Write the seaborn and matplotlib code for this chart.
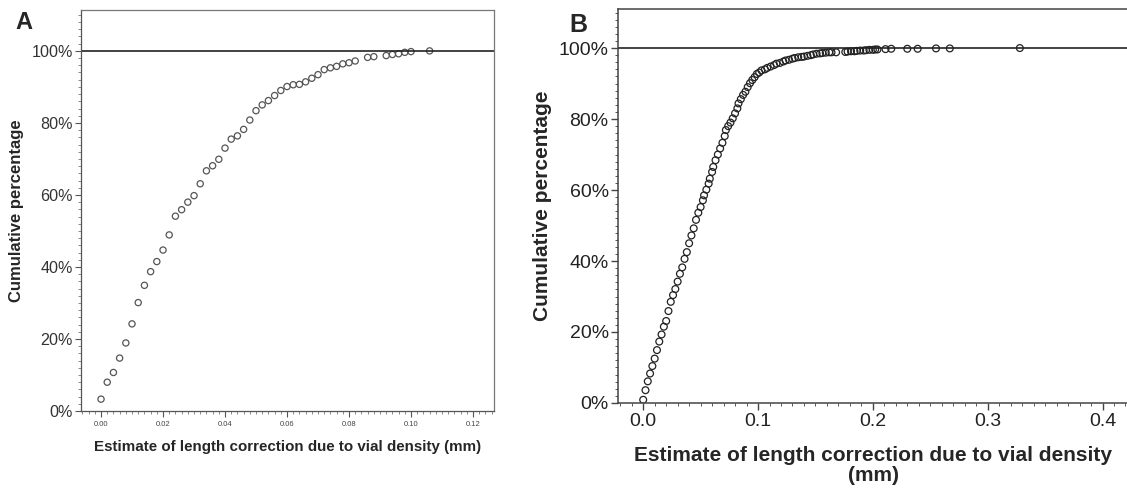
import matplotlib
matplotlib.use("Agg")
import matplotlib.pyplot as plt
import seaborn as sns
import pandas as pd
from matplotlib.ticker import MultipleLocator, FuncFormatter

# panel A values (estimate in mm, cumulative %)
a_estimate = [0.000, 0.002, 0.004, 0.006, 0.008, 0.010, 0.012, 0.014, 0.016, 0.018,
              0.020, 0.022, 0.024, 0.026, 0.028, 0.030, 0.032, 0.034, 0.036, 0.038,
              0.040, 0.042, 0.044, 0.046, 0.048, 0.050, 0.052, 0.054, 0.056, 0.058,
              0.060, 0.062, 0.064, 0.066, 0.068, 0.070, 0.072, 0.074, 0.076, 0.078,
              0.080, 0.082, 0.086, 0.088, 0.092, 0.094, 0.096, 0.098, 0.100, 0.106]
a_cumulative = [3.3, 8.0, 10.7, 14.7, 18.9, 24.2, 30.1, 34.9, 38.7, 41.5,
                44.7, 48.9, 54.1, 55.9, 58.0, 59.8, 63.1, 66.7, 68.1, 69.9,
                73.0, 75.5, 76.4, 78.2, 80.8, 83.4, 85.0, 86.2, 87.6, 89.0,
                90.1, 90.6, 90.7, 91.4, 92.4, 93.4, 94.8, 95.3, 95.7, 96.4,
                96.7, 97.2, 98.2, 98.4, 98.7, 99.0, 99.2, 99.6, 99.8, 100.0]

# panel B values
b_estimate = [0.000, 0.002, 0.004, 0.006, 0.008, 0.010, 0.012, 0.014, 0.016, 0.018,
              0.020, 0.022, 0.024, 0.026, 0.028, 0.030, 0.032, 0.034, 0.036, 0.038,
              0.040, 0.042, 0.044, 0.046, 0.048, 0.050, 0.052, 0.053, 0.055, 0.057,
              0.058, 0.060, 0.061, 0.063, 0.065, 0.067, 0.069, 0.071, 0.072, 0.074,
              0.076, 0.078, 0.080, 0.082, 0.083, 0.085, 0.087, 0.089, 0.091, 0.093,
              0.095, 0.097, 0.099, 0.101, 0.103, 0.106, 0.108, 0.111, 0.114, 0.116,
              0.119, 0.122, 0.124, 0.127, 0.130, 0.132, 0.135, 0.138, 0.140, 0.143,
              0.146, 0.148, 0.151, 0.154, 0.156, 0.159, 0.162, 0.164, 0.168, 0.176,
              0.178, 0.181, 0.184, 0.186, 0.189, 0.192, 0.194, 0.197, 0.200, 0.202,
              0.204, 0.211, 0.216, 0.230, 0.239, 0.255, 0.267, 0.328]
b_cumulative = [0.9, 3.6, 6.1, 8.3, 10.4, 12.5, 14.9, 17.3, 19.3, 21.5,
                23.1, 25.9, 28.5, 30.4, 32.1, 34.2, 36.4, 38.2, 40.6, 42.5,
                45.0, 47.2, 49.2, 51.6, 53.6, 55.2, 57.1, 58.5, 60.1, 61.8,
                63.2, 65.1, 66.5, 68.4, 70.0, 71.7, 73.3, 75.2, 76.9, 78.0,
                79.0, 80.2, 81.6, 83.0, 84.4, 85.6, 86.8, 87.7, 89.0, 90.1,
                91.0, 91.8, 92.7, 93.1, 93.7, 94.0, 94.4, 94.8, 95.2, 95.6,
                95.8, 96.2, 96.5, 96.7, 97.0, 97.2, 97.4, 97.5, 97.6, 97.8,
                98.0, 98.2, 98.4, 98.5, 98.6, 98.7, 98.8, 98.8, 98.8, 98.9,
                99.0, 99.1, 99.1, 99.2, 99.3, 99.3, 99.4, 99.5, 99.5, 99.6,
                99.6, 99.7, 99.8, 99.8, 99.8, 99.9, 99.9, 100.0]

x_label = "Estimate of length correction due to vial density (mm)"
y_label = "Cumulative percentage"

sns.set_style("ticks")
plt.rcParams['font.family'] = ['Liberation Sans', 'DejaVu Sans']

df_a = pd.DataFrame({"estimate": a_estimate, "cumulative": a_cumulative})
df_b = pd.DataFrame({"estimate": b_estimate, "cumulative": b_cumulative})

fig = plt.figure(figsize=(11.27, 4.9), dpi=100)
ax_a = fig.add_axes([0.0719, 0.1612, 0.3665, 0.818])
ax_b = fig.add_axes([0.5487, 0.1776, 0.4520, 0.804])

pct = FuncFormatter(lambda v, p: f"{v:.0f}%")

#panel A
sns.scatterplot(x="estimate", y="cumulative", data=df_a, ax=ax_a, marker="o", s=20,
                color="#555555", facecolor="none", edgecolor="#555555", linewidth=0.9)
ax_a.axhline(100, color="#222222", lw=1.2, zorder=1)
ax_a.set_xlim(-0.00645, 0.1268)
ax_a.set_ylim(0, 111.3)
ax_a.xaxis.set_major_locator(MultipleLocator(0.02))
ax_a.xaxis.set_minor_locator(MultipleLocator(0.002))
ax_a.xaxis.set_major_formatter(FuncFormatter(lambda v, p: f"{v:.2f}"))
ax_a.set_yticks([0, 20, 40, 60, 80, 100])
ax_a.yaxis.set_minor_locator(MultipleLocator(2))
ax_a.yaxis.set_major_formatter(pct)
ax_a.tick_params(axis="x", labelsize=5.5, length=4, width=0.8, color="#555555", labelcolor="#444444")
ax_a.tick_params(axis="y", labelsize=11.6, length=4, width=0.8, color="#555555", labelcolor="#333333", pad=2)
ax_a.tick_params(which="minor", length=2, width=0.6, color="#777777")
ax_a.set_xlabel(x_label, fontsize=10.9, fontweight="bold", labelpad=8)
ax_a.set_ylabel(y_label, fontsize=12, fontweight="bold", labelpad=5)
for s in ax_a.spines.values():
    s.set_color("#777777")
    s.set_linewidth(0.9)
ax_a.spines["left"].set_color("#555555")
ax_a.spines["bottom"].set_color("#555555")

#panel B
sns.scatterplot(x="estimate", y="cumulative", data=df_b, ax=ax_b, marker="o", s=24,
                color="#222222", facecolor="none", edgecolor="#222222", linewidth=0.9)
ax_b.axhline(100, color="#222222", lw=1.2, zorder=1)
ax_b.set_xlim(-0.0216, 0.422)
ax_b.set_ylim(0, 111.0)
ax_b.xaxis.set_major_locator(MultipleLocator(0.1))
ax_b.xaxis.set_minor_locator(MultipleLocator(0.01))
ax_b.xaxis.set_major_formatter(FuncFormatter(lambda v, p: f"{v:.1f}"))
ax_b.set_yticks([0, 20, 40, 60, 80, 100])
ax_b.yaxis.set_minor_locator(MultipleLocator(2))
ax_b.yaxis.set_major_formatter(pct)
ax_b.tick_params(axis="both", labelsize=14, length=5, width=1.0, color="#444444", labelcolor="#222222", pad=2)
ax_b.tick_params(which="minor", length=2.5, width=0.7, color="#555555")
ax_b.set_xlabel(x_label.replace(" (mm)", "\n(mm)"), fontsize=15, fontweight="bold",
                labelpad=12, linespacing=1.05)
ax_b.set_ylabel(y_label, fontsize=15, fontweight="bold", labelpad=5)
for s in ax_b.spines.values():
    s.set_color("#444444")
    s.set_linewidth(1.1)
ax_b.spines["right"].set_visible(False)

fig.text(0.0133, 0.94, "A", fontsize=17, fontweight="bold")
fig.text(0.505, 0.935, "B", fontsize=18, fontweight="bold")

plt.savefig("out.png", dpi=100)
